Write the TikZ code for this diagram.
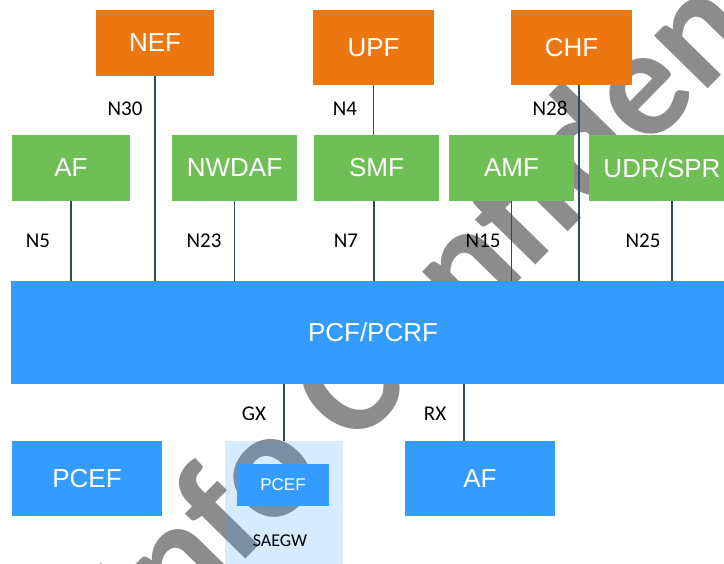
\documentclass[tikz,border=0pt]{standalone}
\usepackage{fontspec}
\setmainfont{Liberation Sans}
\newfontfamily\lblfont{Carlito}
\newfontfamily\wmfont[Ligatures=NoCommon]{Carlito}
\definecolor{orangebox}{HTML}{EC7711}
\definecolor{greenbox}{HTML}{6FBF56}
\definecolor{bluebox}{HTML}{339CFE}
\definecolor{linkcol}{HTML}{2E4A6A}
\definecolor{wmgray}{HTML}{8C8C8C}
\tikzset{
  box/.style={rectangle, draw=none, inner sep=0pt, outer sep=0pt, text=white,
    font=\fontsize{26}{30}\selectfont},
  obox/.style={box, fill=orangebox},
  gbox/.style={box, fill=greenbox},
  bbox/.style={box, fill=bluebox},
  link/.style={draw=linkcol, line width=1.1pt},
  lbl/.style={text=black, inner sep=0pt, font=\lblfont\fontsize{21}{24}\selectfont},
  wm/.style={text=wmgray, inner sep=0pt, rotate=45.5, anchor=base west,
    font=\wmfont\bfseries\fontsize{155}{155}\selectfont}
}
\begin{document}
\begin{tikzpicture}[x=1pt,y=-1pt]
\useasboundingbox (0,0) rectangle (724,564);
\clip (0,0) rectangle (724,564);
\fill[white] (0,0) rectangle (724,564);
% watermark
\node[wm] (wmark) at (151,656) {Info Confidential};
% top row
\node[obox, minimum width=118, minimum height=66] (nef) at (155,43) {NEF};
\node[obox, minimum width=121, minimum height=75] (upf) at (373.5,47.5) {UPF};
\node[obox, minimum width=121, minimum height=75] (chf) at (571.5,47.5) {CHF};
% middle row
\node[gbox, minimum width=118, minimum height=66] (af1) at (71,168) {AF};
\node[gbox, minimum width=125, minimum height=66] (nwdaf) at (234.5,168) {NWDAF};
\node[gbox, minimum width=125, minimum height=66] (smf) at (376.5,168) {SMF};
\node[gbox, minimum width=125, minimum height=66] (amf) at (511.5,168) {AMF};
\node[gbox, minimum width=146, minimum height=66] (udr) at (662,168) {UDR/SPR};
% PCF
\node[bbox, minimum width=724, minimum height=103] (pcf) at (373,332.5) {PCF/PCRF};
% bottom row
\node[bbox, minimum width=150, minimum height=75] (pcef1) at (87,478.5) {PCEF};
\node[rectangle, fill=bluebox, fill opacity=0.2, inner sep=0pt, outer sep=0pt,
  minimum width=118, minimum height=129] (saegw) at (284,505.5) {};
\node[bbox, minimum width=92, minimum height=42, font=\fontsize{17}{20}\selectfont] (pcef2) at (283,485) {PCEF};
\node[lbl, font=\lblfont\fontsize{18}{21}\selectfont] (saegwlbl) at (280,541) {SAEGW};
\node[bbox, minimum width=150, minimum height=75] (af2) at (480,478.5) {AF};
% connectors
\draw[link] (nef.south) -- (nef.south |- pcf.north);
\draw[link] (upf.south) -- (upf.south |- smf.north);
\draw[link] ([xshift=7.5pt]chf.south) -- ([xshift=7.5pt]chf.south |- pcf.north);
\draw[link] (af1.south) -- (af1.south |- pcf.north);
\draw[link] (nwdaf.south) -- (nwdaf.south |- pcf.north);
\draw[link] ([xshift=-2.5pt]smf.south) -- ([xshift=-2.5pt]smf.south |- pcf.north);
\draw[link] (amf.south) -- (amf.south |- pcf.north);
\draw[link] ([xshift=10pt]udr.south) -- ([xshift=10pt]udr.south |- pcf.north);
\draw[link] (saegw.north) -- (saegw.north |- pcf.south);
\draw[link] ([xshift=-16pt]af2.north) -- ([xshift=-16pt]af2.north |- pcf.south);
% labels
\node[lbl] (n30) at (125,109) {N30};
\node[lbl] (n4) at (345,109) {N4};
\node[lbl] (n28) at (550,108) {N28};
\node[lbl] (n5) at (38,241) {N5};
\node[lbl] (n23) at (204,241) {N23};
\node[lbl] (n7) at (346,241) {N7};
\node[lbl] (n15) at (483,241) {N15};
\node[lbl] (n25) at (643,241) {N25};
\node[lbl] (gx) at (254,414) {GX};
\node[lbl] (rx) at (435,414) {RX};
\end{tikzpicture}
\end{document}
